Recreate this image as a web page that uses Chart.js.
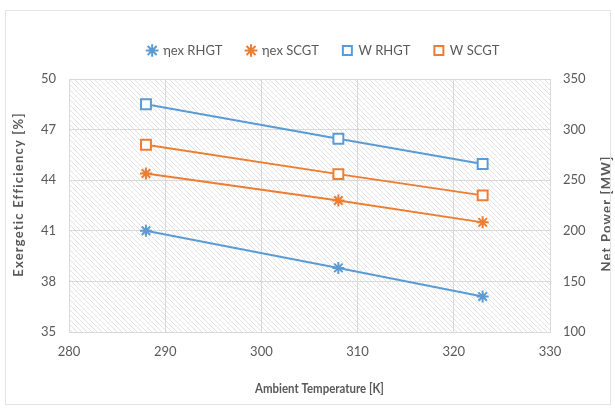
<!DOCTYPE html>
<html>
<head>
<meta charset="utf-8">
<script src="https://cdn.jsdelivr.net/npm/chart.js@4"></script>
<style>
  html, body { margin: 0; padding: 0; background: #fff; }
  #wrap { position: relative; width: 615px; height: 409px; }
  #frame { position: absolute; left: 5px; top: 10px; width: 604px; height: 393px; border: 1px solid #e3e3e3; pointer-events: none; }
</style>
</head>
<body>
<div id="wrap">
  <canvas id="chart"></canvas>
  <div id="frame"></div>
</div>
<script>
// données
const temperatures = [288, 308, 323];
const etaRHGT = [41.0, 38.8, 37.1];
const etaSCGT = [44.4, 42.8, 41.5];
const powerRHGT = [325, 291, 266];
const powerSCGT = [285, 256, 235];

const blue = '#5b9bd5';
const orange = '#ed7d31';
const tickGrey = '#595959';
const gridGrey = '#d9d9d9';

const toPoints = (ys) => temperatures.map((t, i) => ({ x: t, y: ys[i] }));

// motif hachuré de la zone de tracé
function makeHatch() {
    const c = document.createElement('canvas');
    c.width = 5; c.height = 5;
    const g = c.getContext('2d');
    g.strokeStyle = '#e2e2e2';
    g.lineWidth = 1;
    g.beginPath();
    g.moveTo(-1, -1); g.lineTo(6, 6);
    g.moveTo(-1, 4); g.lineTo(1, 6);
    g.moveTo(4, -1); g.lineTo(6, 1);
    g.stroke();
    return g.createPattern(c, 'repeat');
}

const hatchPlugin = {
    id: 'hatch',
    beforeDraw(chart) {
        const a = chart.chartArea;
        const ctx = chart.ctx;
        ctx.save();
        ctx.fillStyle = makeHatch();
        ctx.fillRect(a.left, a.top, a.right - a.left, a.bottom - a.top);
        ctx.restore();
    }
};

// titres des axes (les verticaux se lisent de bas en haut des deux côtés, comme dans Excel)
const axisTitles = {
    id: 'axisTitles',
    afterDraw(chart) {
        const ctx = chart.ctx;
        const a = chart.chartArea;
        const mid = (a.top + a.bottom) / 2;
        const draw = (text, x, y, rot, size, spacing, sx) => {
            ctx.save();
            ctx.translate(x, y);
            ctx.rotate(rot);
            ctx.scale(sx, 1);
            ctx.font = 'bold ' + size + 'px Lato, "Open Sans", sans-serif';
            ctx.letterSpacing = spacing;
            ctx.fillStyle = tickGrey;
            ctx.textAlign = 'center';
            ctx.textBaseline = 'middle';
            ctx.fillText(text, 0, 0);
            ctx.restore();
        };
        draw('Exergetic Efficiency [%]', chart.scales.y.left + 19, mid - 11, -Math.PI / 2, 13, '1.2px', 1);
        draw('Net Power [MW]', chart.scales.y2.right - 8, mid + 8, -Math.PI / 2, 13, '1.2px', 1);
        draw('Ambient Temperature [K]', (a.left + a.right) / 2 + 10, chart.scales.x.bottom - 20, 0, 13, '0px', 0.88);
    }
};

const legendBox = {
    id: 'legendBox',
    beforeInit(chart) {
        const fit = chart.legend.fit;
        chart.legend.fit = function () {
            fit.call(this);
            this.height = 59;
        };
    },
    afterLayout(chart) {
        chart.legend.left += 16;
        chart.legend.right += 16;
    }
};

Chart.defaults.font.family = 'Lato, "Open Sans", sans-serif';
Chart.defaults.color = tickGrey;

function serie(label, data, color, style, axis) {
    return {
        label: label,
        data: toPoints(data),
        yAxisID: axis,
        borderColor: color,
        backgroundColor: color,
        borderWidth: 2,
        pointStyle: style,
        pointRadius: style === 'rect' ? 7 : 6,
        pointHoverRadius: style === 'rect' ? 7 : 6,
        pointBorderColor: color,
        pointBackgroundColor: style === 'rect' ? '#ffffff' : color,
        pointBorderWidth: 2,
        tension: 0
    };
}

new Chart(document.getElementById('chart'), {
    type: 'line',
    data: {
        datasets: [
            serie('ηex RHGT', etaRHGT, blue, 'star', 'y'),
            serie('ηex SCGT', etaSCGT, orange, 'star', 'y'),
            serie('W RHGT', powerRHGT, blue, 'rect', 'y2'),
            serie('W SCGT', powerSCGT, orange, 'rect', 'y2')
        ]
    },
    options: {
        responsive: true,
        maintainAspectRatio: false,
        animation: false,
        layout: { padding: { top: 20, left: 0, right: 0, bottom: 0 } },
        plugins: {
            legend: {
                position: 'top',
                labels: {
                    usePointStyle: true,
                    boxWidth: 9,
                    boxHeight: 9,
                    padding: 24,
                    color: tickGrey,
                    font: { size: 13 }
                }
            },
            tooltip: { enabled: false }
        },
        scales: {
            x: {
                type: 'linear',
                min: 280,
                max: 330,
                ticks: { stepSize: 10, padding: 12, color: tickGrey, font: { size: 13 } },
                grid: { color: gridGrey, drawTicks: false },
                border: { color: gridGrey },
                afterFit: (s) => { s.height = 77; }
            },
            y: {
                position: 'left',
                min: 35,
                max: 50,
                ticks: { stepSize: 3, padding: 13, color: tickGrey, font: { size: 13 } },
                grid: { color: gridGrey, drawTicks: false },
                border: { color: gridGrey },
                afterFit: (s) => { s.width = 69; }
            },
            y2: {
                position: 'right',
                min: 100,
                max: 350,
                ticks: { stepSize: 50, padding: 13, color: tickGrey, font: { size: 13 } },
                grid: { drawOnChartArea: false, drawTicks: false },
                border: { color: gridGrey },
                afterFit: (s) => { s.width = 65; }
            }
        }
    },
    plugins: [hatchPlugin, legendBox, axisTitles]
});
</script>
</body>
</html>
